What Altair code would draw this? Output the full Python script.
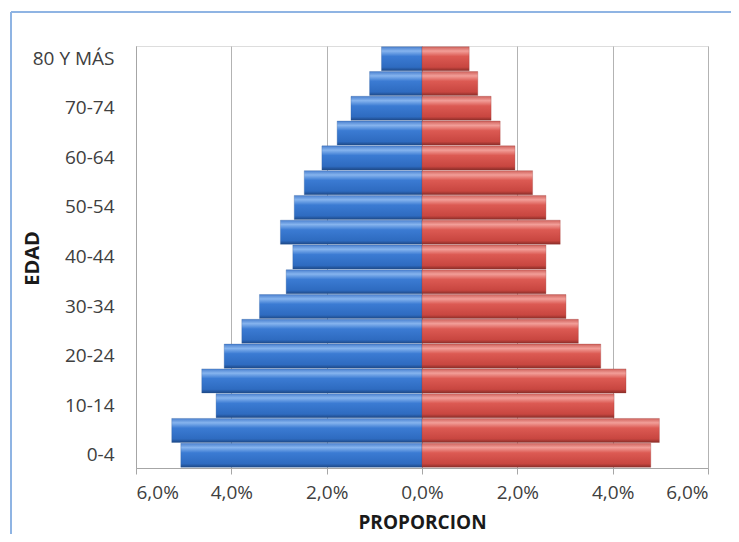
import altair as alt
import pandas as pd

ages = ["0-4", "5-9", "10-14", "15-19", "20-24", "25-29", "30-34", "35-39",
        "40-44", "45-49", "50-54", "55-59", "60-64", "65-69", "70-74", "75-79",
        "80 Y MÁS"]
hombres = [5.06, 5.25, 4.32, 4.62, 4.15, 3.78, 3.41, 2.85,
           2.71, 2.97, 2.68, 2.47, 2.10, 1.78, 1.49, 1.10, 0.85]
mujeres = [4.80, 4.98, 4.03, 4.28, 3.75, 3.28, 3.02, 2.60,
           2.60, 2.90, 2.60, 2.32, 1.95, 1.64, 1.45, 1.17, 0.99]
x_ticks = [-6, -4, -2, 0, 2, 4, 6]
y_labels = ["80 Y MÁS", "70-74", "60-64", "50-54", "40-44", "30-34", "20-24", "10-14", "0-4"]

rows = []
for a, h, m in zip(ages, hombres, mujeres):
    rows.append({"edad": a, "sexo": "Hombres", "valor": -h})
    rows.append({"edad": a, "sexo": "Mujeres", "valor": m})
df = pd.DataFrame(rows)

FONT = "Open Sans"
order = list(reversed(ages))

y_enc = alt.Y(
    "edad:N", sort=order,
    scale=alt.Scale(paddingInner=0.03, paddingOuter=0.03),
    axis=alt.Axis(values=y_labels, ticks=False, grid=False, labelPadding=22,
                  labelFont=FONT, labelFontSize=19, labelColor="#404040",
                  domainColor="#a6a6a6", title="EDAD", titleFont=FONT,
                  titleFontSize=20, titleFontWeight="bold", titleColor="#1a1a1a",
                  titleAngle=270, titleX=-104, titleY=212, titleAlign="center",
                  titleBaseline="middle"),
)
x_enc = alt.X(
    "valor:Q", scale=alt.Scale(domain=[-6, 6], nice=False),
    axis=alt.Axis(values=x_ticks,
                  labelExpr="replace(format(abs(datum.value), '.1f'), '.', ',') + '%'",
                  grid=True, gridColor="#b3b3b3", tickColor="#a6a6a6", tickSize=6,
                  domainColor="#a6a6a6", labelPadding=9, labelFont=FONT,
                  labelFontSize=19, labelColor="#404040", title="PROPORCION",
                  titleFont=FONT, titleFontSize=19, titleFontWeight="bold",
                  titleColor="#1a1a1a", titleY=54, titleBaseline="middle"),
)

blue = alt.Gradient(gradient="linear", x1=0, x2=0, y1=0, y2=1, stops=[
    alt.GradientStop(offset=0, color="#4a80cf"),
    alt.GradientStop(offset=0.18, color="#86b4ee"),
    alt.GradientStop(offset=0.4, color="#3b7bd3"),
    alt.GradientStop(offset=0.85, color="#2e6bc0"),
    alt.GradientStop(offset=1, color="#1d4886"),
])
red = alt.Gradient(gradient="linear", x1=0, x2=0, y1=0, y2=1, stops=[
    alt.GradientStop(offset=0, color="#cf625c"),
    alt.GradientStop(offset=0.18, color="#f29e98"),
    alt.GradientStop(offset=0.4, color="#dc5a53"),
    alt.GradientStop(offset=0.85, color="#c84640"),
    alt.GradientStop(offset=1, color="#892d28"),
])

base = alt.Chart(df)
bars_h = base.transform_filter(alt.datum.sexo == "Hombres").mark_bar(
    color=blue, stroke="#2a5a9c", strokeWidth=0.5, strokeOpacity=0.6
).encode(x=x_enc, y=y_enc)
bars_m = base.transform_filter(alt.datum.sexo == "Mujeres").mark_bar(
    color=red, stroke="#9c3a35", strokeWidth=0.5, strokeOpacity=0.6
).encode(x=x_enc, y=y_enc)

one = pd.DataFrame({"k": [0]})
border_left = alt.Chart(one).mark_rule(color="#8fb4e3", strokeWidth=2).encode(
    x=alt.value(-125), y=alt.value(-34), y2=alt.value(500))
border_top = alt.Chart(one).mark_rule(color="#8fb4e3", strokeWidth=2).encode(
    y=alt.value(-34), x=alt.value(-125), x2=alt.value(620))

chart = alt.layer(border_left, border_top, bars_h, bars_m).properties(
    width=572, height=422,
    autosize=alt.AutoSizeParams(type="none"),
    padding={"left": 128, "top": 38, "right": 23, "bottom": 66},
).configure_view(stroke=None).configure(background="white")

chart.save("out.html", embed_options={"renderer": "svg", "actions": False})
